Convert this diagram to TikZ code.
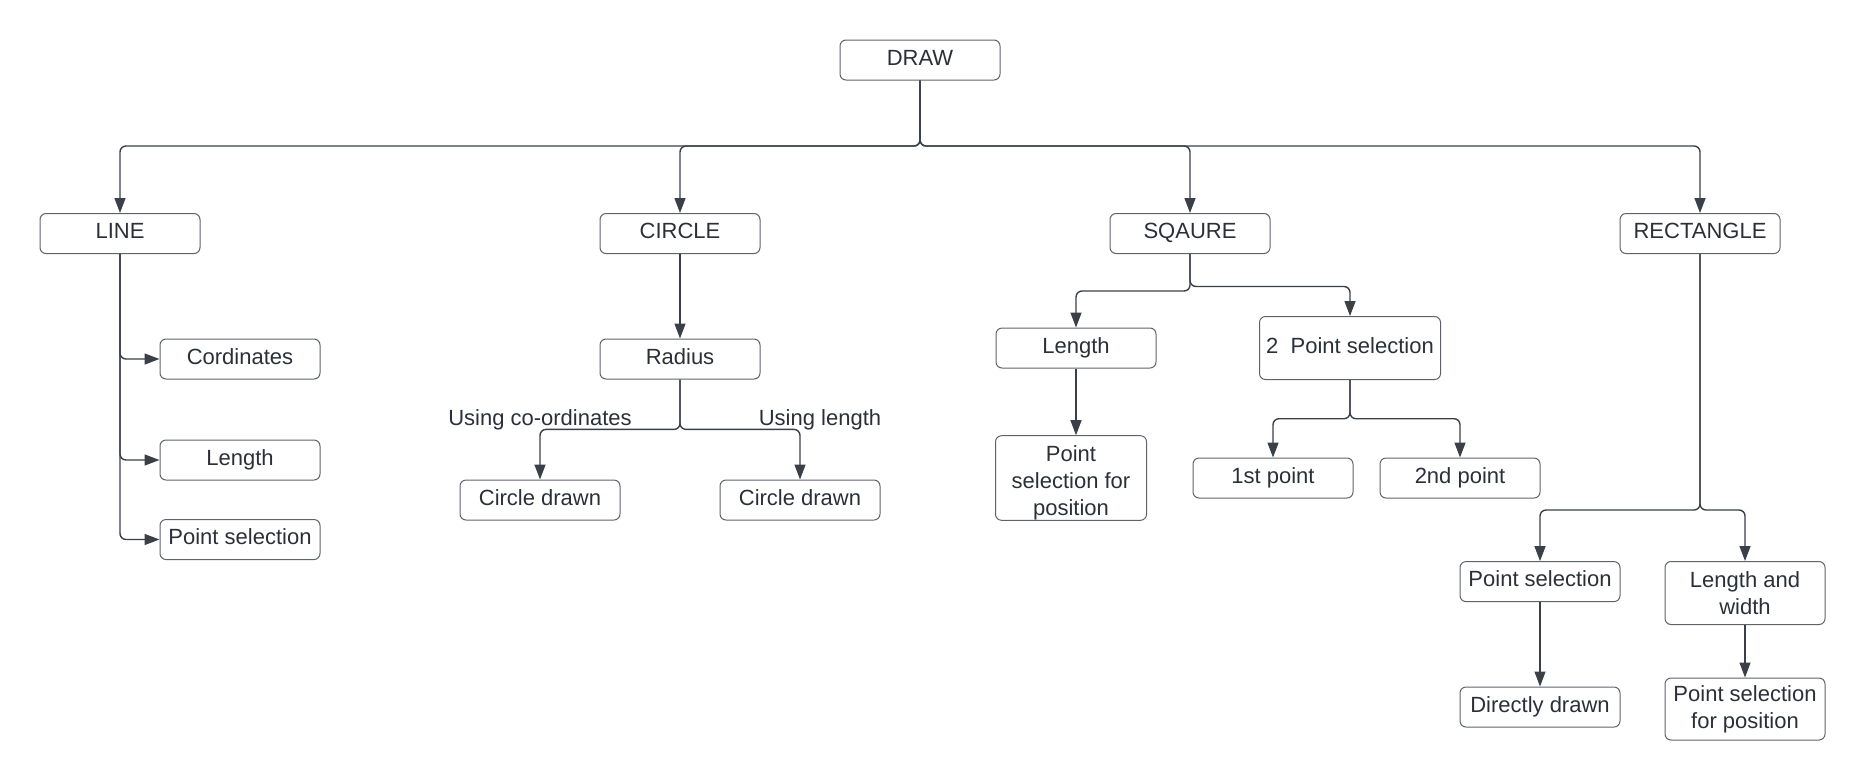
\documentclass[tikz,border=0pt]{standalone}
\usepackage{fontspec}
\setmainfont{Liberation Sans}
\usetikzlibrary{arrows.meta}
\definecolor{ink}{HTML}{2B3038}
\definecolor{linec}{HTML}{3A3F48}
\definecolor{boxc}{HTML}{5E636B}
\tikzset{
  box/.style={draw=boxc, line width=1pt, rounded corners=6pt, minimum width=160, minimum height=40,
    inner sep=0pt, align=center, text=ink, font=\fontsize{22}{27}\selectfont},
  one/.style={box, text height=15pt, text depth=5pt},
  lbl/.style={inner sep=0pt, text=ink, font=\fontsize{22}{27}\selectfont, text height=15pt, text depth=5pt},
  conn/.style={draw=linecol, line width=1.4pt, rounded corners=6pt, -{Triangle[length=15pt,width=11pt]}},
  thin/.style={conn, line width=1.1pt},
}
\colorlet{linecol}{linec}
\begin{document}
\begin{tikzpicture}[x=1pt,y=-1pt]
\useasboundingbox (0,0) rectangle (1865,780);
\node[one] (draw) at (920,60) {DRAW};
\node[one] (line) at (120,233.5) {LINE};
\node[one] (circle) at (680,233.5) {CIRCLE};
\node[one] (sq) at (1190,233.5) {SQAURE};
\node[one] (rect) at (1700,233.5) {RECTANGLE};
\node[one] (cord) at (240,359) {Cordinates};
\node[one] (llen) at (240,460) {Length};
\node[one] (lps) at (240,539.5) {Point selection};
\node[one] (rad) at (680,359) {Radius};
\node[one] (cd1) at (540,500) {Circle drawn};
\node[one] (cd2) at (800,500) {Circle drawn};
\node[lbl] (u1) at (540,420) {Using co-ordinates};
\node[lbl] (u2) at (820,420) {Using length};
\node[one] (slen) at (1076,348) {Length};
\node[one, minimum width=181, minimum height=63] (tps) at (1350,348) {2\ \ Point selection};
\node[box, minimum width=151, minimum height=83] (spsp) at (1071,478) {\rule{0pt}{26pt}Point\\selection for\\position};
\node[one] (p1) at (1273,478) {1st point};
\node[one] (p2) at (1460,478) {2nd point};
\node[one] (rps) at (1540,581.6) {Point selection};
\node[box, minimum height=63] (lw) at (1745,593) {Length and\\width};
\node[one] (dd) at (1540,707) {Directly drawn};
\node[box, minimum height=62] (rpsp) at (1745,709) {Point selection\\for position};
% top bus
\coordinate (bus) at (920,146);
\foreach \t in {line,circle,sq,rect}{
  \draw[conn] (draw.south) -- (bus) -| (\t.north);
}
% LINE children
\foreach \t in {cord,llen,lps}{
  \draw[conn] (line.south) |- (\t.west);
}
% CIRCLE
\draw[conn] (circle.south) -- (rad.north);
\coordinate (rbus) at (680,429.4);
\draw[conn] (rad.south) -- (rbus) -| (cd1.north);
\draw[conn] (rad.south) -- (rbus) -| (cd2.north);
% SQAURE
\draw[conn] (sq.south) -- ++(0,37) -| (slen.north);
\draw[conn] (sq.south) -- ++(0,32.5) -| (tps.north);
\draw[thin] (slen.south) -- (slen.south |- spsp.north);
\coordinate (tbus) at (1350,418.7);
\draw[conn] (tps.south) -- (tbus) -| (p1.north);
\draw[conn] (tps.south) -- (tbus) -| (p2.north);
% RECTANGLE
\coordinate (rrbus) at (1700,510);
\draw[conn] (rect.south) -- (rrbus) -| (rps.north);
\draw[conn] (rect.south) -- (rrbus) -| (lw.north);
\draw[thin] (rps.south) -- (dd.north);
\draw[thin] (lw.south) -- (rpsp.north);
\end{tikzpicture}
\end{document}
